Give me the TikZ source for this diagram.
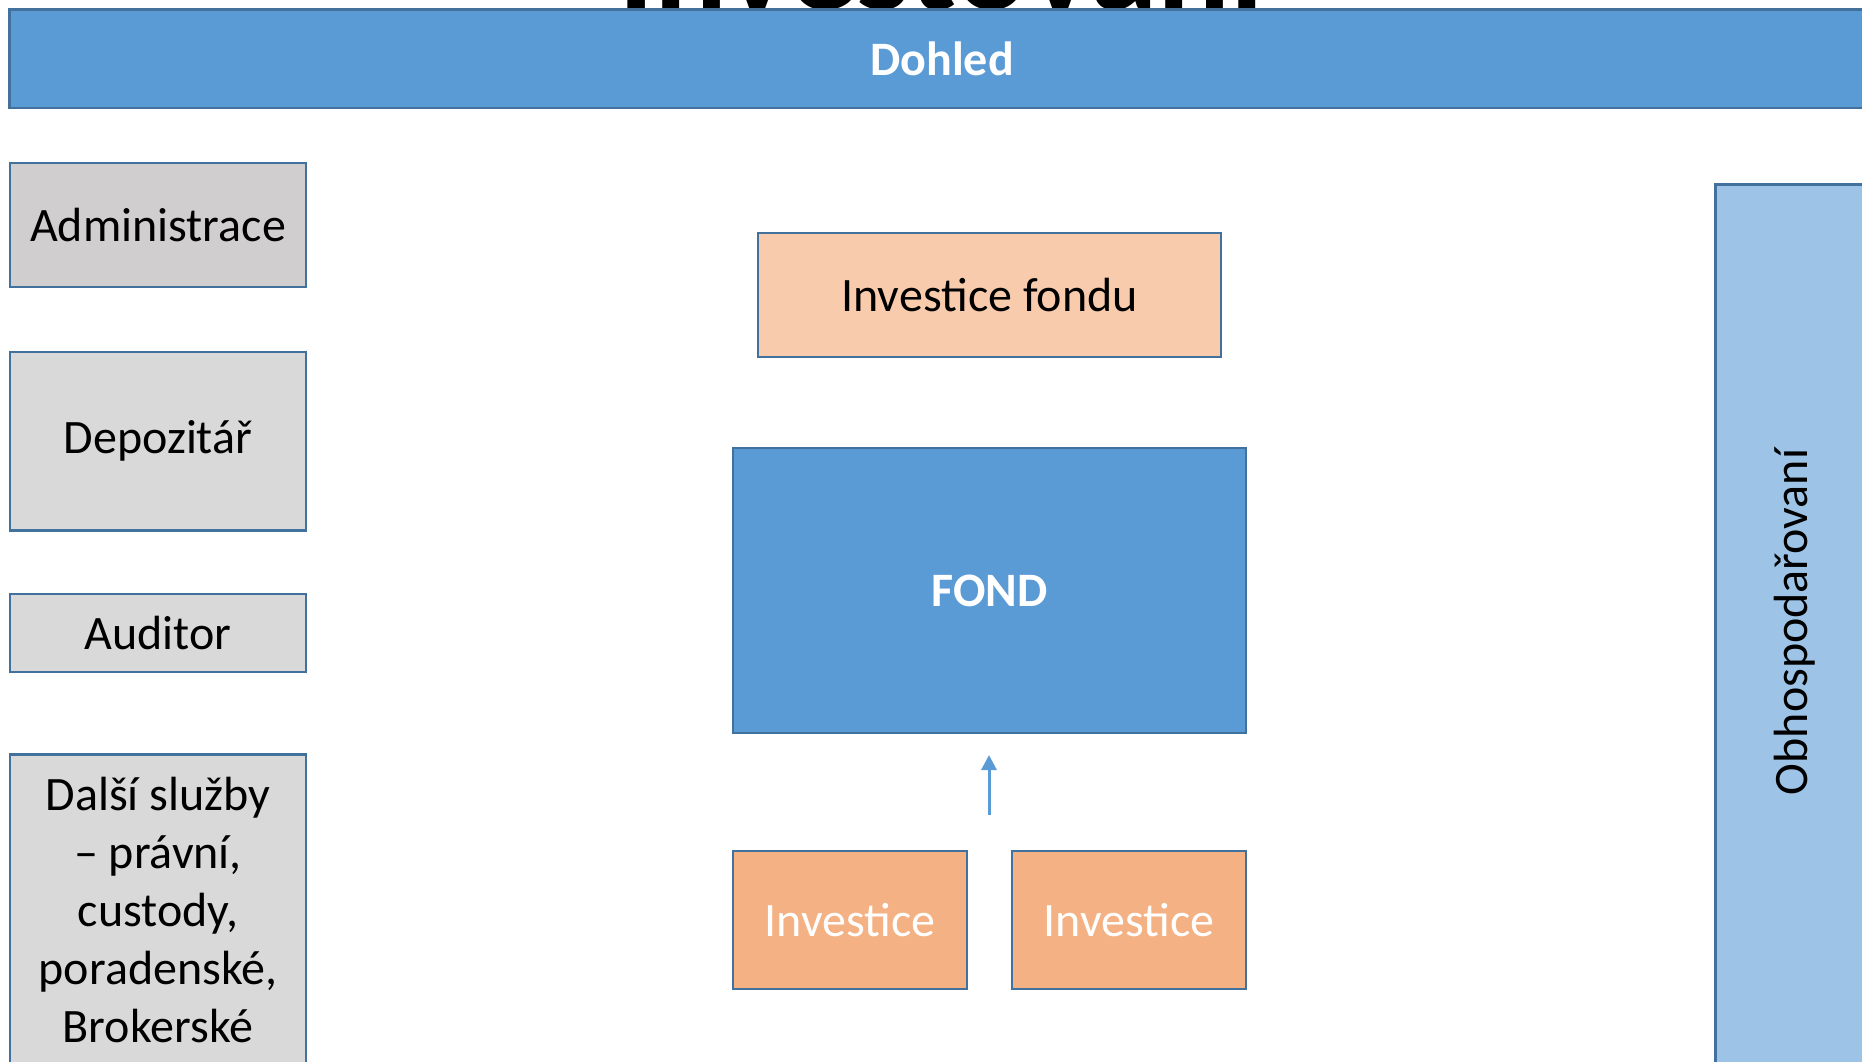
\documentclass[tikz,border=0pt]{standalone}
\usepackage{fontspec}
\setmainfont{Carlito}
\usetikzlibrary{positioning, arrows.meta, calc}
\definecolor{ppblue}{HTML}{5B9BD5}
\definecolor{ppedge}{HTML}{41719C}
\definecolor{pplight}{HTML}{9DC3E6}
\definecolor{ppgraydk}{HTML}{D0CECE}
\definecolor{ppgray}{HTML}{D9D9D9}
\definecolor{pppeach}{HTML}{F8CBAD}
\definecolor{pporange}{HTML}{F4B183}

\begin{document}
\begin{tikzpicture}[x=1pt, y=-1pt,
    box/.style={draw=ppedge, line width=2.5pt, rectangle, inner sep=0pt,
                align=center, font=\fontsize{48}{58}\selectfont},
    side/.style={box, fill=ppgray, minimum width=296pt},
    txt/.style={inner sep=0pt, align=center, font=\fontsize{48}{58}\selectfont}]
    \useasboundingbox (0,0) rectangle (1862,1061);
    \clip (0,0) rectangle (1862,1061);
    % title, mostly outside the slide
    \node[anchor=base, font=\fontsize{136}{140}\selectfont\bfseries] (title) at (941,9) {Investování};
    \node[box, fill=ppblue, text=white, font=\fontsize{48}{58}\selectfont\bfseries,
          minimum width=1865pt, minimum height=98.5pt] (dohled) at (942,58.75) {Dohled};
    % left column
    \node[side, fill=ppgraydk, minimum height=124pt] (admin) at (158,225) {Administrace};
    \node[side, minimum height=178.5pt] (depo) at (158,441) {Depozitář};
    \node[side, minimum height=78pt] (audit) at (158,633) {Auditor};
    \node[side, anchor=north, minimum height=340pt] (dalsi) at (158,753) {};
    \node[txt] (dalsitxt) at (158,910)
          {Další služby\\– právní,\\custody,\\poradenské,\\Brokerské};
    % middle
    \node[box, fill=pppeach, minimum width=463pt, minimum height=124pt] (invfondu) at (989.5,295) {Investice fondu};
    \node[box, fill=ppblue, text=white, font=\fontsize{48}{58}\selectfont\bfseries,
          minimum width=513pt, minimum height=285pt] (fond) at (989.5,590.5) {FOND};
    \node[box, fill=pporange, text=white, minimum width=234pt, minimum height=138pt] (inv1) at (850,920) {Investice};
    \node[box, fill=pporange, text=white, minimum width=234pt, minimum height=138pt] (inv2) at (1129,920) {Investice};
    \coordinate (arrfrom) at (989,815);
    \coordinate (arrto) at (989,755);
    \draw[-{Triangle[width=15pt, length=15pt]}, line width=3pt, color=ppblue] (arrfrom) -- (arrto);
    % right column
    \node[box, fill=pplight, anchor=north west, minimum width=180pt, minimum height=920pt] (obhosp) at (1714,183) {};
    \node[txt, rotate=90] (obhosptxt) at (1795,622) {Obhospodařovaní};
\end{tikzpicture}
\end{document}
